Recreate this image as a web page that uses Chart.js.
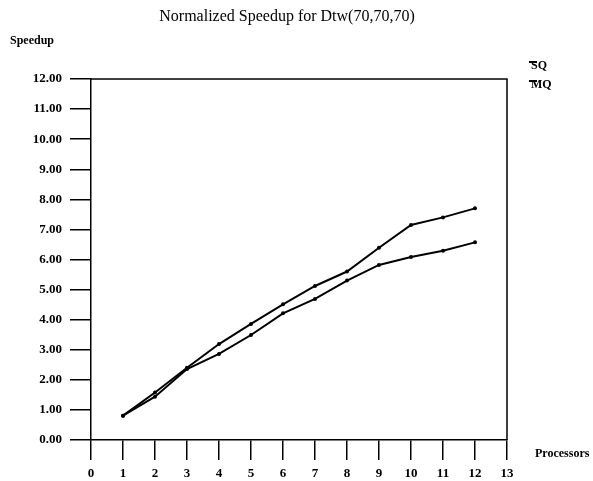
<!DOCTYPE html>
<html>
<head>
<meta charset="utf-8">
<title>Normalized Speedup for Dtw(70,70,70)</title>
<script src="https://cdn.jsdelivr.net/npm/chart.js@4/dist/chart.umd.min.js"></script>
<style>
  html, body { margin: 0; padding: 0; background: #fff; }
  canvas { display: block; }
</style>
</head>
<body>
<canvas id="speedup" width="593" height="481"></canvas>
<script>
// Speedup per processor count for the two queue variants
const processors = [1, 2, 3, 4, 5, 6, 7, 8, 9, 10, 11, 12];
const sqSpeedup = [0.81, 1.58, 2.40, 3.19, 3.86, 4.51, 5.12, 5.60, 6.39, 7.15, 7.40, 7.70];
const mqSpeedup = [0.81, 1.44, 2.36, 2.86, 3.49, 4.21, 4.69, 5.30, 5.82, 6.08, 6.29, 6.57];
const seriesNames = ['SQ', 'MQ'];
const chartTitle = 'Normalized Speedup for Dtw(70,70,70)';

const INK = '#000';
const SERIF = '"Liberation Serif", "DejaVu Serif", serif';

function points(ys) {
  return processors.map((p, i) => ({ x: p, y: ys[i] }));
}

// Title, box frame, axis captions and the little legend in the top right
const decorations = {
  id: 'decorations',
  afterDraw(chart) {
    const { ctx, chartArea: a } = chart;
    ctx.save();
    ctx.strokeStyle = INK;
    ctx.lineWidth = 1.5;
    ctx.beginPath();
    ctx.moveTo(a.left, a.top);
    ctx.lineTo(a.right, a.top);
    ctx.lineTo(a.right, a.bottom);
    ctx.stroke();

    ctx.fillStyle = INK;
    ctx.textBaseline = 'middle';
    ctx.textAlign = 'center';
    ctx.font = '16px ' + SERIF;
    ctx.fillText(chartTitle, 287, 17);

    ctx.textAlign = 'left';
    ctx.font = 'bold 12px ' + SERIF;
    ctx.fillText('Speedup', 10, 41);
    ctx.fillText('Processors', 535, 454);

    chart.data.datasets.forEach((ds, i) => {
      const y = 66 + i * 19;
      ctx.fillText(ds.label, 531, y);
      ctx.lineWidth = 2;
      ctx.beginPath();
      ctx.moveTo(529, y - 4);
      ctx.lineTo(537, y - 4);
      ctx.stroke();
    });
    ctx.restore();
  }
};

new Chart(document.getElementById('speedup'), {
  type: 'line',
  data: {
    datasets: [
      { label: seriesNames[0], data: points(sqSpeedup) },
      { label: seriesNames[1], data: points(mqSpeedup) }
    ].map(ds => Object.assign(ds, {
      borderColor: INK, backgroundColor: INK, borderWidth: 2,
      pointRadius: 2, pointBorderWidth: 0, tension: 0, fill: false
    }))
  },
  options: {
    responsive: false,
    animation: false,
    devicePixelRatio: 1,
    layout: { padding: { left: 0, right: 86, top: 79, bottom: 0 } },
    plugins: {
      legend: { display: false },
      tooltip: { enabled: false },
      title: { display: false }
    },
    scales: {
      x: {
        type: 'linear', min: 0, max: 13,
        afterFit: s => { s.height = 41; },
        border: { display: true, color: INK, width: 1.5 },
        grid: { drawOnChartArea: false, drawTicks: true, tickLength: 20, color: INK, lineWidth: 1.5 },
        ticks: {
          stepSize: 1, color: INK, padding: 6, maxRotation: 0,
          font: { family: SERIF, size: 13, weight: 'bold' }
        }
      },
      y: {
        min: 0, max: 12,
        afterFit: s => { s.width = 91; },
        border: { display: true, color: INK, width: 1.5 },
        grid: { drawOnChartArea: false, drawTicks: true, tickLength: 21, color: INK, lineWidth: 1.5 },
        ticks: {
          stepSize: 1, color: INK, padding: 8,
          callback: v => v.toFixed(2),
          font: { family: SERIF, size: 13, weight: 'bold' }
        }
      }
    }
  },
  plugins: [decorations]
});
</script>
</body>
</html>
